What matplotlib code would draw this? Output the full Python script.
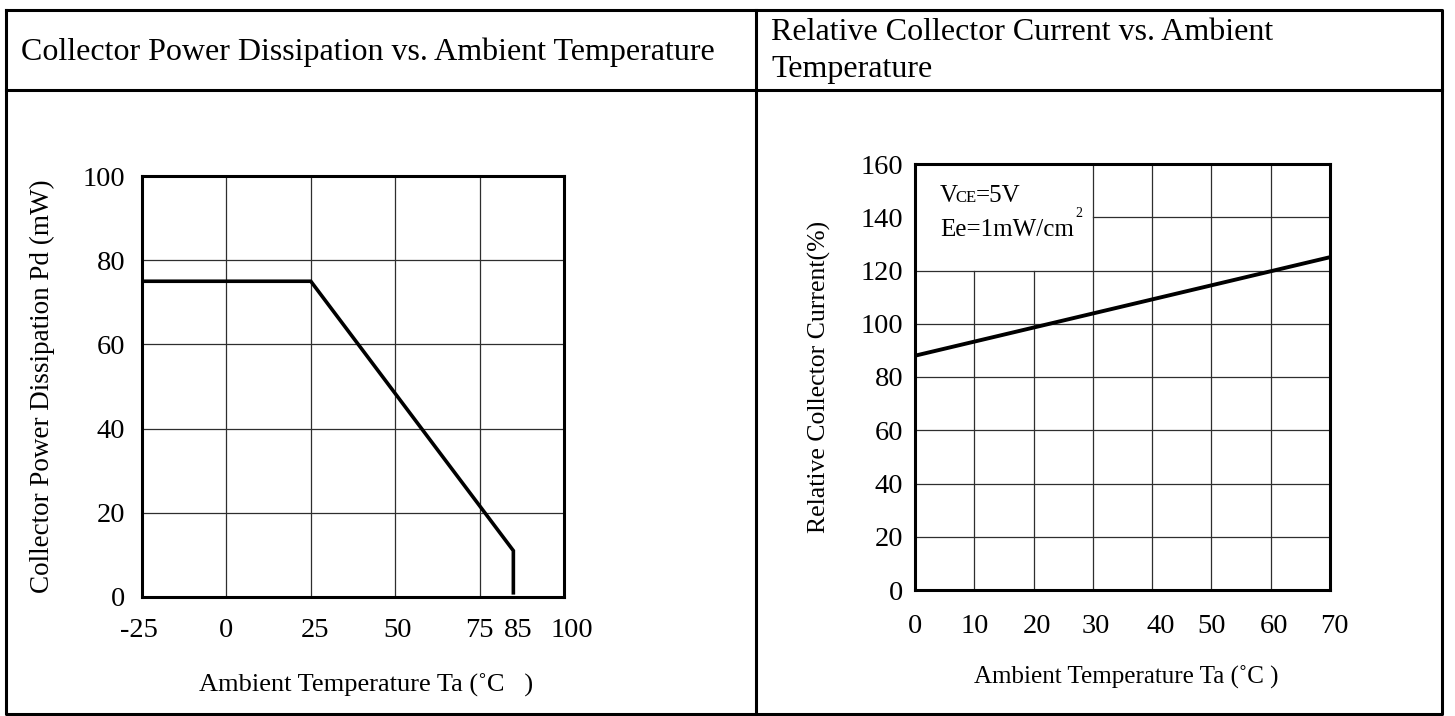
import matplotlib
matplotlib.use('Agg')
import matplotlib.pyplot as plt
from matplotlib.transforms import ScaledTranslation

plt.rcParams['font.family'] = ['Liberation Serif', 'DejaVu Serif']

# ===== Data =====
# Collector power dissipation vs ambient temperature
pd_temp = [-25, 25, 85, 85]
pd_power = [75, 75, 11, 1]
pd_xticks = [-25, 0, 25, 50, 75, 85, 100]
pd_xgrid = [0, 25, 50, 75]
pd_yticks = [0, 20, 40, 60, 80, 100]

# Relative collector current vs ambient temperature
rc_temp = [0, 70]
rc_current = [88, 125]
rc_xticks = [0, 10, 20, 30, 40, 50, 60, 70]
rc_yticks = [0, 20, 40, 60, 80, 100, 120, 140, 160]

W, H = 1455, 716
fig = plt.figure(figsize=(W / 100, H / 100), dpi=100)
fig.patch.set_facecolor('white')


def px_axes(x0, y0, x1, y1):
    # pixel box (top-left origin) -> figure axes
    return fig.add_axes([x0 / W, 1 - y1 / H, (x1 - x0) / W, (y1 - y0) / H])


def nudge_labels(labels, shifts):
    # small horizontal shifts (pixels) of tick labels, as in the original sheet
    for lab in labels:
        dx = shifts.get(lab.get_text(), 0)
        if dx:
            lab.set_transform(lab.get_transform() + ScaledTranslation(dx / 100, 0, fig.dpi_scale_trans))


# ===== Table frame and headers =====
bg = fig.add_axes([0, 0, 1, 1], zorder=0)
bg.set_xlim(0, W)
bg.set_ylim(H, 0)
bg.axis('off')
tlw = 2.2
bg.plot([6, 1442, 1442, 6, 6], [10, 10, 714, 714, 10], color='black', lw=tlw, solid_capstyle='projecting')
bg.plot([6, 1442], [90, 90], color='black', lw=tlw)
bg.plot([756, 756], [10, 714], color='black', lw=tlw)

bg.text(21, 52, 'Collector Power Dissipation vs. Ambient Temperature', fontsize=23,
        ha='left', va='center')
bg.text(771, 33, 'Relative Collector Current vs. Ambient', fontsize=23, ha='left', va='center')
bg.text(771, 70, 'Temperature', fontsize=23, ha='left', va='center')

frame_lw = 2.2
grid_kw = dict(color='#2e2e2e', lw=0.9, zorder=1)

# ===== Left chart =====
ax1 = px_axes(142, 176, 564, 597)
ax1.set_xlim(-25, 100)
ax1.set_ylim(0, 100)
for x in pd_xgrid:
    ax1.axvline(x, **grid_kw)
for y in pd_yticks[1:-1]:
    ax1.axhline(y, **grid_kw)
ax1.plot(pd_temp, pd_power, color='black', lw=2.6, zorder=3, solid_joinstyle='miter')
ax1.set_xticks(pd_xticks)
ax1.set_xticklabels([str(v) for v in pd_xticks])
ax1.set_yticks(pd_yticks)
ax1.tick_params(length=0, labelsize=20.5, pad=12)
ax1.tick_params(axis='x', pad=15)
for s in ax1.spines.values():
    s.set_linewidth(frame_lw)
ax1.set_xlabel('Ambient Temperature Ta (˚C   )', fontsize=19)
ax1.xaxis.set_label_coords(0.531, -0.21)
ax1.xaxis.label.set_va('center')
ax1.set_ylabel('Collector Power Dissipation Pd (mW)', fontsize=19.5)
ax1.yaxis.set_label_coords(-0.235, 0.5)
ax1.yaxis.label.set_va('center')
nudge_labels(ax1.get_xticklabels(), {'-25': -3, '25': 4, '50': 2, '85': 5, '100': 8})

# ===== Right chart =====
ax2 = px_axes(915, 164, 1330, 590)
ax2.set_xlim(0, 70)
ax2.set_ylim(0, 160)
for x in rc_xticks[1:-1]:
    top = 120 if x < 30 else 160
    ax2.plot([x, x], [0, top], **grid_kw)
for y in rc_yticks[1:-1]:
    left = 30 if y > 120 else 0
    ax2.plot([left, 70], [y, y], **grid_kw)
ax2.plot(rc_temp, rc_current, color='black', lw=2.8, zorder=3)
ax2.set_xticks(rc_xticks)
ax2.set_yticks(rc_yticks)
ax2.tick_params(length=0, labelsize=20.5, pad=8.5)
ax2.tick_params(axis='x', pad=17)
for s in ax2.spines.values():
    s.set_linewidth(frame_lw)
ax2.set_xlabel('Ambient Temperature Ta (˚C )', fontsize=18)
ax2.xaxis.set_label_coords(0.51, -0.204)
ax2.xaxis.label.set_va('center')
ax2.set_ylabel('Relative Collector Current(%)', fontsize=18.5)
ax2.yaxis.set_label_coords(-0.231, 0.5)
ax2.yaxis.label.set_va('center')
nudge_labels(ax2.get_xticklabels(), {'20': 3, '30': 3, '40': 9, '60': 3, '70': 4})

# condition note
ax2.text(4.2, 145.9, 'V', fontsize=18, ha='left', va='baseline')
ax2.text(6.85, 145.9, 'CE', fontsize=12, ha='left', va='baseline')
ax2.text(10.3, 145.9, '=5V', fontsize=18, ha='left', va='baseline')
ax2.text(4.2, 133.1, 'Ee=1mW/cm', fontsize=18, ha='left', va='baseline')
ax2.text(27.0, 141.5, '2', fontsize=10, ha='left', va='center')

fig.savefig('out.png', dpi=100, facecolor='white')
